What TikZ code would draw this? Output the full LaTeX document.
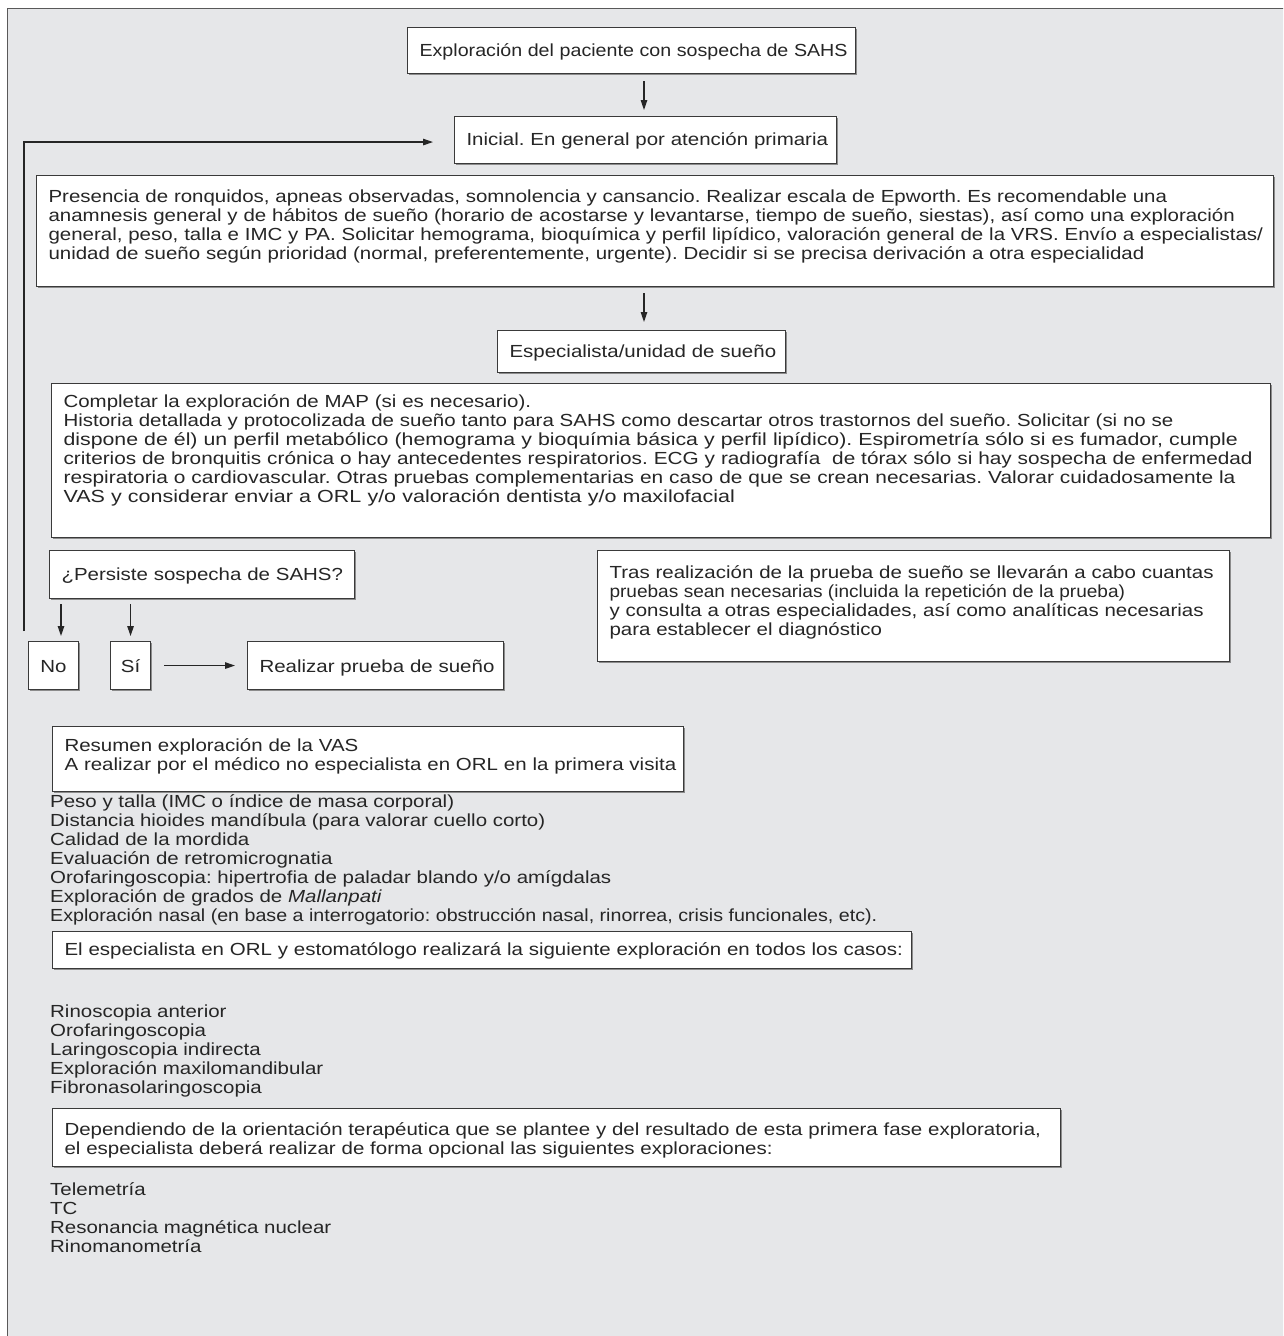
\documentclass[tikz,border=0pt]{standalone}
\usepackage{fontspec}
\setmainfont{Liberation Sans}[FakeStretch=1.17]
\usetikzlibrary{arrows.meta,shadows}
\definecolor{bg}{HTML}{E6E7E9}
\definecolor{ink}{HTML}{262626}
\definecolor{edge}{HTML}{3A3A3A}
\newcommand\mylines[1]{\begin{tabular}[t]{@{}l@{}}#1\end{tabular}}
\newcommand\mycenter[1]{\begin{tabular}[t]{@{}c@{}}#1\end{tabular}}
\newcommand\wider[2]{\scalebox{#1}[1]{#2}}
\tikzset{
  txt/.style={font=\fontsize{17.5}{19}\selectfont\frenchspacing, text=ink},
  box/.style={txt, draw=edge, line width=1.1pt, fill=white, inner xsep=12pt, inner ysep=0pt,
    anchor=north west, align=left,
    drop shadow={shadow xshift=1.2pt, shadow yshift=-1.2pt, fill=black!45, opacity=1}},
  cbox/.style={box, inner xsep=0pt, align=center},
  plain/.style={txt, anchor=base west, inner sep=0pt},
  arr/.style={line width=1.2pt, draw=black!85, -{Triangle[length=10pt,width=6.5pt]}},
  frame/.style={draw=black!65, line width=1.5pt, fill=bg}
}
\begin{document}
\begin{tikzpicture}[x=1pt,y=-1pt]
\useasboundingbox (0,0) rectangle (1283,1336);
\clip (0,0) rectangle (1283,1336);
\fill[white] (0,0) rectangle (1283,1336);
\draw[frame] (7.5,8.5) rectangle (1300,1360);

% top flow
\node[box, text width=424pt, text height=29pt, text depth=17pt] (b1) at (407,27)
  {\noindent\mylines{\wider{0.96}{Exploración del paciente con sospecha de SAHS}}};
\node[box, text width=358pt, text height=29pt, text depth=18pt] (b2) at (454,116)
  {\noindent\mylines{Inicial. En general por atención primaria}};
\node[box, text width=1213pt, text height=27pt, text depth=84pt] (b3) at (36,175)
  {\noindent\mylines{Presencia de ronquidos, apneas observadas, somnolencia y cansancio. Realizar escala de Epworth. Es recomendable una\\
anamnesis general y de hábitos de sueño (horario de acostarse y levantarse, tiempo de sueño, siestas), así como una exploración\\
general, peso, talla e IMC y PA. Solicitar hemograma, bioquímica y perfil lipídico, valoración general de la VRS. Envío a especialistas/\\
unidad de sueño según prioridad (normal, preferentemente, urgente). Decidir si se precisa derivación a otra especialidad}};
\node[box, text width=264pt, text height=27pt, text depth=15pt] (b4) at (497,330)
  {\noindent\mylines{Especialista/unidad de sueño}};
\node[box, text width=1195pt, text height=24pt, text depth=130pt] (b5) at (51,383)
  {\noindent\mylines{Completar la exploración de MAP (si es necesario).\\
Historia detallada y protocolizada de sueño tanto para SAHS como descartar otros trastornos del sueño. Solicitar (si no se\\
\wider{1.04}{dispone de él) un perfil metabólico (hemograma y bioquímia básica y perfil lipídico). Espirometría sólo si es fumador, cumple}\\
\wider{1.015}{criterios de bronquitis crónica o hay antecedentes respiratorios. ECG y radiografía \ de tórax sólo si hay sospecha de enfermedad}\\
\wider{1.02}{respiratoria o cardiovascular. Otras pruebas complementarias en caso de que se crean necesarias. Valorar cuidadosamente la}\\
\wider{1.05}{VAS y considerar enviar a ORL y/o valoración dentista y/o maxilofacial}}};
\node[box, text width=281pt, text height=30pt, text depth=18pt] (b6) at (49,550)
  {\noindent\mylines{¿Persiste sospecha de SAHS?}};
\node[cbox, text width=50pt, text height=31pt, text depth=17pt] (no) at (28,641)
  {\mycenter{No}};
\node[cbox, text width=40pt, text height=31pt, text depth=17pt] (si) at (110,641)
  {\mycenter{Sí}};
\node[box, text width=232pt, text height=31pt, text depth=17pt] (real) at (247,641)
  {\noindent\mylines{Realizar prueba de sueño}};
\node[box, text width=608pt, text height=28pt, text depth=83pt] (tras) at (597,550)
  {\noindent\mylines{Tras realización de la prueba de sueño se llevarán a cabo cuantas\\
\wider{0.93}{pruebas sean necesarias (incluida la repetición de la prueba)}\\
y consulta a otras especialidades, así como analíticas necesarias\\
para establecer el diagnóstico}};

% connectors
\coordinate (ax) at (644,0);
\coordinate (nx) at (61,0);
\coordinate (fb) at (24,631);
\draw[arr, shorten <=7pt, shorten >=6pt] (b1.south -| ax) -- (b2.north -| ax);
\draw[arr, shorten <=6pt, shorten >=8pt] (b3.south -| ax) -- (b4.north -| ax);
\draw[arr, shorten >=21pt] (fb) |- ([yshift=-2pt]b2.west);
\draw[arr, shorten <=5pt, shorten >=5pt] (b6.south -| nx) -- (no.north -| nx);
\draw[arr, shorten <=5pt, shorten >=5pt] (b6.south -| si.north) -- (si.north);
\draw[arr, shorten <=13pt, shorten >=12pt] (si.east) -- (real.west);

% lower part
\node[box, text width=607pt, text height=25pt, text depth=40pt] (res) at (52,726)
  {\noindent\mylines{Resumen exploración de la VAS\\
A realizar por el médico no especialista en ORL en la primera visita}};
\node[plain] (l1) at (50,807)
  {\mylines{Peso y talla (IMC o índice de masa corporal)\\
Distancia hioides mandíbula (para valorar cuello corto)\\
Calidad de la mordida\\
Evaluación de retromicrognatia\\
Orofaringoscopia: hipertrofia de paladar blando y/o amígdalas\\
Exploración de grados de \textit{Mallanpati}\\
\wider{0.96}{Exploración nasal (en base a interrogatorio: obstrucción nasal, rinorrea, crisis funcionales, etc).}}};
\node[box, text width=835pt, text height=24pt, text depth=13pt] (orl) at (52,931)
  {\noindent\mylines{El especialista en ORL y estomatólogo realizará la siguiente exploración en todos los casos:}};
\node[plain] (l2) at (50,1017)
  {\mylines{Rinoscopia anterior\\
Orofaringoscopia\\
Laringoscopia indirecta\\
Exploración maxilomandibular\\
Fibronasolaringoscopia}};
\node[box, text width=984pt, text height=27pt, text depth=31pt] (dep) at (52,1108)
  {\noindent\mylines{Dependiendo de la orientación terapéutica que se plantee y del resultado de esta primera fase exploratoria,\\
el especialista deberá realizar de forma opcional las siguientes exploraciones:}};
\node[plain] (l3) at (50,1195)
  {\mylines{Telemetría\\
TC\\
Resonancia magnética nuclear\\
Rinomanometría}};
\end{tikzpicture}
\end{document}
